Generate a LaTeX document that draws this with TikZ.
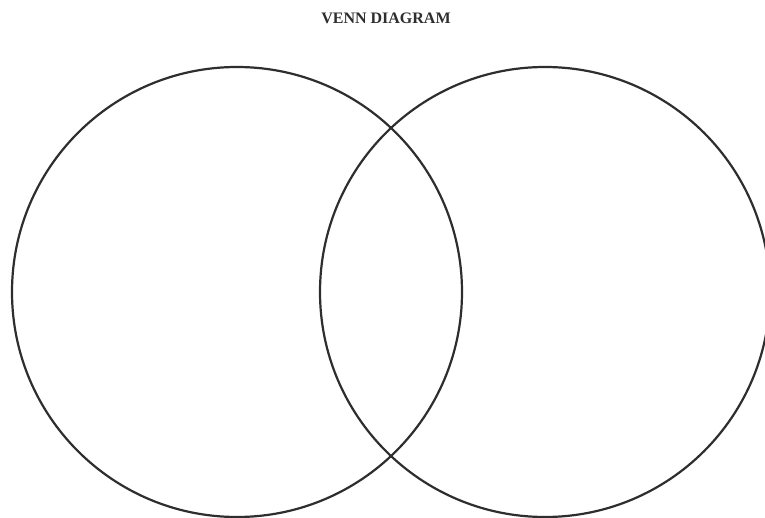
\documentclass[tikz,border=0pt]{standalone}
\usepackage{fontspec}
\setmainfont{Liberation Serif}
\definecolor{ink}{HTML}{2E2E2E}
\begin{document}
\begin{tikzpicture}[x=1pt,y=-1pt,
  setcircle/.style={draw=ink,line width=2.2pt},
  titletext/.style={font=\bfseries\fontsize{16}{18}\selectfont,text=ink,inner sep=0pt}]
\useasboundingbox (0,0) rectangle (765,518);
\clip (0,0) rectangle (765,518);
\fill[white] (0,0) rectangle (765,518);
\node[titletext] (title) at (386,18) {VENN DIAGRAM};
\node[setcircle,circle,minimum size=450pt,inner sep=0pt] (left) at (237,292) {};
\node[setcircle,circle,minimum size=450pt,inner sep=0pt] (right) at (545,292) {};
\end{tikzpicture}
\end{document}
